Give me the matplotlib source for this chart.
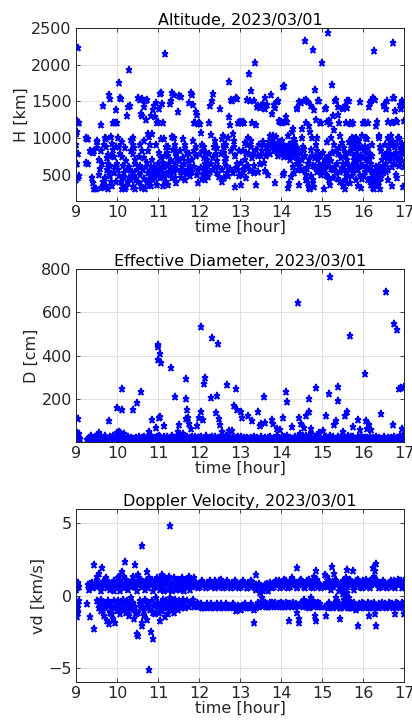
import matplotlib
matplotlib.use("Agg")
import matplotlib.pyplot as plt
import numpy as np

# ---- data (time [hour], value) ----
date = "2023/03/01"
hour_ticks = [9, 10, 11, 12, 13, 14, 15, 16, 17]

alt_pts = [
    (9.0,1220),(9.02,1230),(9.05,1210),(9.08,1200),(9.0,1050),(9.03,1080),(9.0,800),(9.05,780),(9.0,650),(9.02,640),
    (9.0,420),(9.05,460),(9.08,480),(9.01,900),(9.06,2230),
    (9.25,1000),(9.28,990),(9.3,980),(9.35,820),(9.38,810),(9.42,800),(9.25,660),(9.3,650),(9.4,450),(9.42,380),
    (9.45,300),(9.48,310),(9.5,950),(9.52,960),(9.45,820),
    (9.6,1180),(9.65,1430),(9.7,1000),(9.72,880),(9.75,720),(9.78,650),(9.8,540),(9.82,480),(9.85,400),(9.88,350),
    (9.6,320),(9.65,330),(9.7,450),(9.75,560),(9.78,770),(9.8,1590),(9.82,1530),(9.85,1010),(9.9,830),(9.92,740),
    (9.95,600),(9.98,400),(9.62,820),(9.68,900),(9.72,350),(9.55,700),(9.58,580),(9.9,1200),(9.95,1200),(9.98,1380),(9.88,920),
    (10.0,1200),(10.02,1000),(10.05,1750),(10.05,880),(10.08,1550),(10.1,1530),(10.12,740),(10.15,620),(10.18,520),(10.2,310),
    (10.22,330),(10.25,1300),(10.28,1420),(10.3,1930),(10.32,1440),(10.35,970),(10.38,900),(10.4,1000),(10.42,860),(10.45,700),
    (10.48,560),(10.3,450),(10.35,420),(10.4,330),(10.45,300),(10.0,650),(10.05,480),(10.1,400),(10.15,350),(10.25,560),
    (10.3,600),(10.38,780),(10.12,300),(10.2,860),(10.42,480),
    (10.52,1540),(10.55,1520),(10.58,1330),(10.6,1300),(10.62,1530),(10.65,1420),(10.68,1500),(10.7,1250),(10.72,1520),(10.75,1060),
    (10.78,1010),(10.8,900),(10.82,1300),(10.85,1050),(10.88,1380),(10.9,1430),(10.92,1290),(10.95,1480),(10.98,1210),(10.55,900),
    (10.6,820),(10.65,720),(10.7,600),(10.75,520),(10.8,480),(10.85,550),(10.9,600),(10.95,580),(10.52,400),(10.58,350),
    (10.62,320),(10.68,310),(10.72,380),(10.78,420),(10.82,340),(10.88,500),(10.92,450),(10.98,530),(10.55,620),(10.65,960),
    (10.75,820),(10.85,700),(10.95,900),
    (11.0,1220),(11.02,1400),(11.05,1600),(11.08,1620),(11.1,1460),(11.12,1210),(11.15,980),(11.18,2140),(11.2,880),(11.22,800),
    (11.25,760),(11.28,640),(11.3,1470),(11.32,1500),(11.35,1620),(11.38,1580),(11.4,1000),(11.42,900),(11.45,820),(11.48,700),
    (11.0,520),(11.05,580),(11.1,560),(11.15,470),(11.2,400),(11.25,360),(11.3,520),(11.35,460),(11.4,590),(11.45,380),
    (11.03,800),(11.08,730),(11.13,660),(11.23,620),(11.33,1010),(11.43,750),(11.48,1350),(11.12,340),(11.38,540),
    (11.5,1570),(11.55,1560),(11.6,990),(11.65,900),(11.7,800),(11.75,1480),(11.8,1610),(11.82,1590),(11.85,1450),(11.88,1210),
    (11.9,1200),(11.92,1350),(11.95,1320),(11.98,1190),(11.52,680),(11.58,600),(11.62,560),(11.68,510),(11.72,690),(11.78,620),
    (11.82,540),(11.88,820),(11.92,880),(11.95,500),(11.98,390),(11.55,460),(11.65,420),(11.75,780),(11.85,960),(11.6,720),
    (12.0,1200),(12.02,1190),(12.05,1070),(12.08,900),(12.1,820),(12.12,720),(12.15,640),(12.18,580),(12.2,520),(12.22,470),
    (12.25,1200),(12.28,1440),(12.3,1040),(12.32,1500),(12.35,1600),(12.38,960),(12.4,880),(12.42,780),(12.45,520),(12.48,470),
    (12.05,590),(12.1,500),(12.15,420),(12.2,700),(12.3,650),(12.4,600),(12.25,780),(12.35,560),(12.45,860),(12.12,880),
    (12.52,1400),(12.55,990),(12.58,1030),(12.6,900),(12.62,800),(12.65,620),(12.68,520),(12.7,480),(12.72,1280),(12.73,1770),
    (12.75,1180),(12.78,1520),(12.8,1510),(12.82,1060),(12.85,870),(12.88,330),(12.9,1540),(12.92,1530),(12.95,1200),(12.98,1210),
    (12.55,400),(12.6,460),(12.65,720),(12.75,580),(12.85,960),(12.9,590),(12.95,560),(12.98,820),(12.7,1000),(12.62,880),
    (13.0,1220),(13.02,1200),(13.05,1210),(13.08,1220),(13.1,1210),(13.12,930),(13.15,790),(13.18,1520),(13.2,1000),(13.22,1870),
    (13.25,1510),(13.27,1640),(13.3,1200),(13.32,780),(13.35,1500),(13.37,2020),(13.4,1170),(13.42,1420),(13.45,1440),(13.48,1410),
    (13.02,360),(13.05,500),(13.1,570),(13.15,460),(13.2,620),(13.25,550),(13.3,720),(13.35,520),(13.4,360),(13.45,540),
    (13.08,820),(13.18,900),(13.28,960),(13.38,830),(13.48,640),
    (13.5,1430),(13.55,1470),(13.6,1540),(13.62,1400),(13.65,1450),(13.7,940),(13.72,1030),(13.75,1580),(13.78,1330),(13.8,1020),
    (13.82,1450),(13.85,1410),(13.88,1010),(13.9,1490),(13.92,1500),(13.95,1230),(13.98,1220),(13.52,760),(13.58,660),(13.62,550),
    (13.68,500),(13.72,900),(13.78,860),(13.82,920),(13.85,380),(13.88,820),(13.92,840),(13.95,900),(13.98,850),(13.55,900),(13.65,820),
    (14.0,1220),(14.02,1210),(14.05,1700),(14.08,1710),(14.1,1220),(14.12,1280),(14.15,1220),(14.18,1020),(14.2,900),(14.22,880),
    (14.25,860),(14.28,1080),(14.3,1120),(14.32,990),(14.35,950),(14.38,1400),(14.4,1410),(14.42,830),(14.45,1490),(14.48,1480),
    (14.0,800),(14.03,850),(14.05,500),(14.08,520),(14.1,870),(14.12,880),(14.15,800),(14.18,320),(14.2,380),(14.22,780),
    (14.25,470),(14.28,760),(14.3,600),(14.32,520),(14.35,900),(14.38,720),(14.4,650),(14.42,560),(14.45,360),(14.48,800),
    (14.02,960),(14.06,780),(14.14,830),(14.24,920),(14.34,820),
    (14.5,1120),(14.52,1000),(14.55,1500),(14.58,2320),(14.6,1520),(14.62,1200),(14.65,1490),(14.68,1160),(14.7,1080),(14.72,1430),
    (14.75,1000),(14.78,2200),(14.8,1380),(14.83,1660),(14.85,1250),(14.88,1000),(14.9,1510),(14.92,1500),(14.95,1200),(14.98,1210),
    (14.52,700),(14.55,560),(14.6,500),(14.62,420),(14.65,380),(14.68,320),(14.7,300),(14.72,830),(14.75,760),(14.78,420),
    (14.8,330),(14.82,600),(14.85,900),(14.88,540),(14.9,700),(14.92,750),(14.95,560),(14.98,500),(14.57,850),(14.67,640),
    (15.0,2020),(15.05,300),(15.08,1400),(15.1,1410),(15.12,1220),(15.15,2430),(15.18,1230),(15.2,1190),(15.22,1000),(15.25,1720),
    (15.28,1300),(15.3,1110),(15.32,1500),(15.35,1520),(15.38,1420),(15.4,1310),(15.42,1200),(15.45,1020),(15.48,930),(15.05,580),
    (15.08,560),(15.1,500),(15.12,700),(15.15,620),(15.18,420),(15.2,360),(15.22,580),(15.25,800),(15.28,460),(15.3,900),
    (15.32,600),(15.35,520),(15.38,780),(15.4,440),(15.42,860),(15.45,400),(15.48,580),(15.02,800),(15.12,950),
    (15.5,1410),(15.52,1390),(15.55,1440),(15.58,1200),(15.6,1410),(15.62,1500),(15.65,1510),(15.68,1200),(15.7,1190),(15.72,1000),
    (15.75,1200),(15.8,920),(15.82,1000),(15.85,820),(15.9,960),(15.92,1490),(15.95,760),(15.98,1030),(15.5,640),(15.52,340),
    (15.55,300),(15.58,520),(15.6,380),(15.62,700),(15.65,600),(15.68,560),(15.7,900),(15.72,480),(15.75,880),(15.78,980),
    (15.8,620),(15.82,420),(15.85,560),(15.88,350),(15.9,700),(15.92,480),(15.95,320),(15.98,440),(15.57,800),(15.67,950),(15.77,700),
    (16.0,1200),(16.02,1210),(16.05,1200),(16.08,1000),(16.1,980),(16.12,1200),(16.15,1420),(16.18,1480),(16.2,1500),(16.22,900),
    (16.25,1540),(16.28,2180),(16.3,1520),(16.32,1160),(16.35,1220),(16.38,1000),(16.4,1020),(16.42,880),(16.45,820),(16.48,600),
    (16.0,720),(16.02,500),(16.05,880),(16.08,800),(16.1,600),(16.12,420),(16.15,700),(16.18,580),(16.2,360),(16.22,530),
    (16.25,320),(16.28,300),(16.3,500),(16.32,420),(16.35,550),(16.38,400),(16.4,560),(16.42,310),(16.45,460),(16.48,520),
    (16.5,1430),(16.52,1450),(16.55,1400),(16.58,1500),(16.6,1220),(16.62,1000),(16.65,960),(16.68,1020),(16.7,1200),(16.72,1550),
    (16.73,2290),(16.75,1540),(16.78,1370),(16.8,1230),(16.82,1220),(16.85,1000),(16.88,980),(16.9,1450),(16.92,1400),(16.95,1500),
    (16.98,1430),(17.0,1230),(16.52,600),(16.55,530),(16.58,800),(16.6,560),(16.62,420),(16.65,680),(16.68,900),(16.7,340),
    (16.72,760),(16.75,640),(16.78,880),(16.8,490),(16.82,460),(16.85,700),(16.88,1000),(16.9,800),(16.92,840),(16.95,680),
    (16.98,330),(17.0,860),
]

# altitude: extra detections filling the dense 300-1000 km band
alt_band = [
    (9.52,860),(9.57,500),(9.63,640),(9.67,400),(9.73,980),(9.77,300),(9.83,620),(9.87,760),(9.93,520),(9.97,880),
    (10.03,560),(10.07,780),(10.13,940),(10.17,460),(10.23,680),(10.27,380),(10.33,820),(10.37,540),(10.43,640),(10.47,420),
    (10.53,740),(10.57,500),(10.63,560),(10.67,440),(10.73,660),(10.77,360),(10.83,600),(10.87,420),(10.93,520),(10.97,360),
    (11.01,640),(11.04,460),(11.07,980),(11.11,520),(11.14,600),(11.17,760),(11.21,500),(11.24,880),(11.27,540),(11.31,680),
    (11.34,580),(11.37,840),(11.41,460),(11.44,660),(11.47,560),(11.53,820),(11.57,540),(11.63,640),(11.67,860),(11.73,560),
    (11.77,480),(11.83,700),(11.87,600),(11.93,760),(11.97,560),(12.03,780),(12.07,440),(12.13,560),(12.17,800),(12.23,640),
    (12.27,540),(12.33,720),(12.37,880),(12.43,680),(12.47,600),(12.53,780),(12.57,560),(12.63,680),(12.67,900),(12.77,820),
    (12.83,520),(12.87,760),(12.93,640),(12.97,480),(13.03,660),(13.07,560),(13.13,700),(13.17,620),(13.23,780),(13.27,880),
    (13.33,620),(13.43,760),(13.47,900),(13.53,820),(13.57,940),(13.63,760),(13.67,880),(13.73,780),(13.77,960),(13.83,840),
    (13.87,900),(13.93,760),(13.97,940),(14.04,900),(14.07,740),(14.11,820),(14.16,760),(14.19,860),(14.21,700),(14.26,820),
    (14.29,880),(14.31,740),(14.36,780),(14.39,860),(14.41,760),(14.44,700),(14.46,620),(14.49,560),(14.53,880),(14.59,760),
    (14.63,580),(14.69,700),(14.73,480),(14.77,620),(14.79,380),(14.84,720),(14.89,820),(14.93,620),(14.97,760),(15.03,640),
    (15.07,700),(15.13,480),(15.17,760),(15.23,680),(15.27,560),(15.33,820),(15.37,640),(15.43,540),(15.47,720),(15.53,860),
    (15.54,560),(15.56,420),(15.59,760),(15.61,640),(15.63,480),(15.66,800),(15.69,380),(15.71,820),(15.73,620),(15.76,540),
    (15.79,760),(15.81,860),(15.83,640),(15.86,740),(15.89,560),(15.91,880),(15.94,620),(15.97,860),(16.01,620),(16.03,840),
    (16.06,540),(16.09,700),(16.11,860),(16.13,560),(16.16,780),(16.19,640),(16.21,460),(16.23,760),(16.26,420),(16.29,400),
    (16.31,600),(16.33,340),(16.36,460),(16.39,620),(16.44,540),(16.47,700),(16.51,760),(16.54,900),(16.57,640),(16.61,740),
    (16.64,860),(16.67,780),(16.71,600),(16.74,940),(16.77,720),(16.81,800),(16.84,900),(16.87,620),(16.91,700),(16.94,920),
    (16.97,780),(16.99,600),
]

# effective diameter: scattered larger objects
dia_pts = [
    (9.05,105),(9.8,95),(10.0,155),(10.12,150),(10.13,245),(10.38,148),(10.48,180),(10.58,230),(10.78,45),(10.85,100),
    (10.95,65),(11.0,380),(11.0,440),(11.0,450),(11.05,405),(11.08,365),(11.02,110),(11.05,115),(11.15,75),(11.32,340),
    (11.42,210),(11.5,80),(11.68,290),(11.68,200),(11.7,150),(11.68,105),(11.72,110),(11.75,85),(11.8,60),(11.62,35),
    (11.48,45),(11.95,75),(12.0,110),(12.05,140),(12.1,100),(12.12,270),(12.15,295),(12.05,533),(12.32,480),(12.3,205),
    (12.45,215),(12.42,135),(12.48,105),(12.47,455),(12.5,80),(12.55,45),(12.68,265),(12.72,50),(12.8,50),(12.85,165),
    (12.9,245),(12.93,150),(13.02,140),(13.05,110),(13.2,120),(13.3,95),(13.43,140),(13.48,75),(13.52,85),(13.58,210),
    (13.6,90),(13.78,100),(13.8,85),(13.9,60),(13.98,55),(14.05,110),(14.12,233),(14.15,185),(14.28,70),(14.42,645),
    (14.45,110),(14.48,85),(14.55,65),(14.62,120),(14.68,200),(14.68,140),(14.72,60),(14.85,250),(14.92,40),(15.02,50),
    (15.1,120),(15.18,220),(15.2,762),(15.3,80),(15.35,95),(15.38,255),(15.4,190),(15.52,45),(15.55,120),(15.6,140),
    (15.68,490),(15.75,70),(15.88,100),(15.92,55),(16.05,315),(16.08,95),(16.1,60),(16.15,80),(16.2,55),(16.45,130),
    (16.55,692),(16.72,80),(16.75,545),(16.82,520),(16.88,245),(16.92,250),(16.95,60),(17.0,255),(16.9,30),
]

# effective diameter: the dense band of small objects near zero
dia_small = [
    (9.0,30),(9.01,10),(9.02,40),(9.03,5),(9.04,20),(9.05,35),(9.06,12),(9.07,38),(9.08,8),(9.1,15),
    (9.28,8),(9.32,20),(9.36,30),(9.4,12),(9.44,5),(9.48,18),(9.52,25),(9.55,40),(9.58,10),(9.62,22),
    (9.66,8),(9.7,30),(9.74,15),(9.78,5),(9.82,20),(9.86,12),(9.9,28),(9.94,8),(9.97,18),(10.0,40),
    (10.02,35),(10.04,45),(10.06,30),(10.08,42),(10.1,25),(10.14,10),(10.18,35),(10.22,6),(10.26,15),(10.3,8),
    (10.34,20),(10.38,12),(10.42,5),(10.46,18),(10.5,10),(10.54,22),(10.58,6),(10.62,15),(10.66,25),(10.7,8),
    (10.74,18),(10.78,12),(10.82,28),(10.86,20),(10.9,8),(10.94,15),(10.98,25),(11.0,12),(11.02,30),(11.06,18),
    (11.1,8),(11.14,22),(11.18,10),(11.22,25),(11.26,5),(11.3,18),(11.34,30),(11.38,10),(11.42,20),(11.46,8),
    (11.5,15),(11.54,28),(11.58,6),(11.62,18),(11.66,10),(11.7,25),(11.74,12),(11.78,20),(11.82,5),(11.86,15),
    (11.9,22),(11.94,8),(11.98,18),(12.02,12),(12.06,25),(12.1,8),(12.14,15),(12.18,30),(12.22,10),(12.26,20),
    (12.3,6),(12.34,15),(12.38,25),(12.42,8),(12.46,18),(12.5,12),(12.54,22),(12.58,6),(12.62,15),(12.66,28),
    (12.7,10),(12.74,18),(12.78,8),(12.82,22),(12.86,12),(12.9,20),(12.94,6),(12.98,15),(13.02,25),(13.06,10),
    (13.1,18),(13.14,8),(13.18,20),(13.22,12),(13.26,5),(13.3,15),(13.34,22),(13.38,8),(13.42,18),(13.46,10),
    (13.5,25),(13.54,12),(13.58,6),(13.62,20),(13.66,10),(13.7,15),(13.74,25),(13.78,8),(13.82,18),(13.86,12),
    (13.9,28),(13.94,8),(13.98,15),(14.02,22),(14.06,10),(14.1,18),(14.14,30),(14.18,12),(14.22,20),(14.26,8),
    (14.3,15),(14.34,25),(14.38,10),(14.42,20),(14.46,35),(14.5,12),(14.54,28),(14.58,15),(14.62,30),(14.66,10),
    (14.7,22),(14.74,35),(14.78,12),(14.82,25),(14.86,8),(14.9,18),(14.94,12),(14.98,5),(15.08,10),(15.1,25),
    (15.12,8),(15.16,18),(15.2,30),(15.24,12),(15.28,22),(15.32,6),(15.36,15),(15.4,25),(15.44,10),(15.48,18),
    (15.52,8),(15.56,20),(15.6,12),(15.64,28),(15.68,10),(15.72,18),(15.76,25),(15.8,8),(15.84,15),(15.88,22),
    (15.92,10),(15.96,30),(16.0,12),(16.04,20),(16.08,8),(16.12,15),(16.16,25),(16.2,10),(16.24,18),(16.28,6),
    (16.32,22),(16.36,12),(16.4,20),(16.44,8),(16.48,15),(16.52,25),(16.56,10),(16.6,18),(16.64,6),(16.68,20),
    (16.72,12),(16.76,25),(16.8,8),(16.84,18),(16.88,10),(16.92,22),(16.95,15),(16.98,30),(17.0,8),(16.97,20),
]

# effective diameter: more detections in the near-zero band
dia_small2 = [
    (9.0,15),(9.02,25),(9.04,8),(9.06,30),(9.3,15),(9.38,6),(9.46,25),(9.54,8),(9.6,15),(9.68,20),
    (9.76,10),(9.84,25),(9.92,15),(10.01,20),(10.03,10),(10.05,25),(10.07,15),(10.09,38),(10.12,20),(10.2,15),
    (10.28,25),(10.36,8),(10.44,12),(10.52,6),(10.6,20),(10.68,12),(10.76,8),(10.84,12),(10.92,20),(10.96,8),
    (11.04,25),(11.08,12),(11.12,15),(11.2,6),(11.28,12),(11.36,20),(11.44,12),(11.52,8),(11.6,22),(11.68,15),
    (11.76,8),(11.84,25),(11.92,12),(12.0,20),(12.08,15),(12.16,8),(12.24,12),(12.32,22),(12.4,12),(12.48,8),
    (12.56,15),(12.64,8),(12.72,20),(12.8,12),(12.88,8),(12.96,22),(13.04,12),(13.12,15),(13.2,8),(13.28,20),
    (13.36,12),(13.44,6),(13.52,15),(13.6,8),(13.68,20),(13.76,12),(13.84,8),(13.92,15),(14.0,10),(14.08,25),
    (14.16,8),(14.24,15),(14.32,8),(14.4,12),(14.48,20),(14.56,8),(14.64,20),(14.72,12),(14.8,15),(14.88,25),
    (14.96,15),(15.06,18),(15.14,12),(15.22,8),(15.3,15),(15.38,8),(15.46,25),(15.54,12),(15.62,6),(15.7,25),
    (15.78,12),(15.86,8),(15.94,15),(16.02,8),(16.1,20),(16.18,12),(16.26,15),(16.34,8),(16.42,15),(16.5,10),
    (16.58,8),(16.66,12),(16.74,8),(16.82,12),(16.9,15),(16.99,12),
]

# Doppler velocity: upper band (near +0.7 km/s)
vel_upper = [
    (9.0,0.7),(9.01,0.6),(9.02,0.8),(9.03,0.5),(9.05,0.7),(9.07,0.6),(9.3,0.7),(9.33,0.8),(9.36,0.6),(9.4,0.9),
    (9.43,0.7),(9.46,0.8),(9.5,0.6),(9.53,0.9),(9.56,0.7),(9.6,0.8),(9.63,0.6),(9.66,0.9),(9.7,0.7),(9.73,0.8),
    (9.76,0.5),(9.8,0.9),(9.83,0.7),(9.86,0.8),(9.9,0.6),(9.93,1.0),(9.96,0.7),(10.0,0.8),(10.03,0.6),(10.06,1.0),
    (10.1,0.7),(10.13,0.9),(10.16,0.5),(10.2,0.8),(10.23,1.1),(10.26,0.7),(10.3,0.9),(10.33,0.6),(10.36,1.0),(10.4,0.8),
    (10.43,0.6),(10.46,0.9),(10.5,0.7),(10.53,1.2),(10.56,0.8),(10.6,0.6),(10.63,0.9),(10.66,0.7),(10.7,1.0),(10.73,0.8),
    (10.76,0.5),(10.8,0.9),(10.83,0.7),(10.86,1.1),(10.9,0.8),(10.93,0.6),(10.96,0.9),(11.0,0.7),(11.03,1.0),(11.06,0.8),
    (11.1,1.3),(11.13,0.6),(11.16,0.9),(11.2,0.7),(11.23,1.1),(11.26,0.8),(11.3,0.6),(11.33,0.9),(11.36,0.7),(11.4,1.0),
    (11.43,0.8),(11.46,0.6),(11.5,0.9),(11.53,0.7),(11.56,0.8),(11.6,1.0),(11.63,0.7),(11.66,0.9),(11.7,0.6),(11.73,0.8),
    (11.76,1.1),(11.8,0.7),(11.83,0.9),(11.86,0.8),(11.9,0.6),(11.93,0.9),(11.96,0.7),(12.0,0.8),(12.03,0.6),(12.06,0.9),
    (12.1,0.7),(12.13,0.8),(12.16,0.6),(12.2,0.9),(12.23,0.7),(12.26,0.8),(12.3,0.6),(12.33,0.9),(12.36,0.7),(12.4,1.0),
    (12.43,0.8),(12.46,0.6),(12.5,0.9),(12.53,1.1),(12.56,0.7),(12.6,0.8),(12.63,0.6),(12.66,0.9),(12.7,0.7),(12.73,0.8),
    (12.76,0.6),(12.8,0.9),(12.83,0.7),(12.86,0.8),(12.9,0.6),(12.93,0.9),(12.96,0.7),(13.0,0.8),(13.03,0.6),(13.06,0.9),
    (13.1,0.7),(13.13,0.8),(13.16,0.5),(13.2,0.9),(13.23,0.7),(13.26,0.8),(13.3,0.6),(13.33,0.8),(13.36,0.5),(13.4,0.7),
    (13.43,0.6),(13.46,0.8),(13.5,0.4),(13.53,0.6),(13.56,0.3),(13.6,0.7),(13.63,0.5),(13.66,0.8),(13.7,0.6),(13.73,0.9),
    (13.76,0.7),(13.8,0.8),(13.83,0.6),(13.86,0.9),(13.9,0.7),(13.93,0.8),(13.96,1.0),(14.0,0.7),(14.03,0.9),(14.06,0.6),
    (14.1,0.8),(14.13,1.0),(14.16,0.7),(14.2,0.9),(14.23,0.6),(14.26,0.8),(14.3,1.0),(14.33,0.7),(14.36,0.9),(14.4,0.6),
    (14.43,0.8),(14.46,1.0),(14.5,0.7),(14.53,0.9),(14.56,0.6),(14.6,0.8),(14.63,1.0),(14.66,0.7),(14.7,0.9),(14.73,0.6),
    (14.76,0.8),(14.8,1.0),(14.83,0.7),(14.86,0.9),(14.9,0.6),(14.93,0.8),(14.96,0.7),(15.08,1.4),(15.1,0.9),(15.12,0.6),
    (15.15,0.8),(15.18,1.0),(15.2,0.7),(15.23,0.9),(15.26,0.6),(15.3,0.8),(15.33,1.0),(15.36,0.7),(15.4,0.9),(15.43,0.6),
    (15.46,0.8),(15.5,1.0),(15.53,0.7),(15.56,0.9),(15.6,0.6),(15.63,0.8),(15.66,1.0),(15.7,0.7),(15.73,0.9),(15.76,0.6),
    (15.8,0.8),(15.83,1.0),(15.86,0.7),(15.9,0.9),(15.93,0.6),(15.96,0.8),(16.0,1.0),(16.03,0.7),(16.06,0.9),(16.1,0.6),
    (16.13,0.8),(16.16,1.0),(16.2,0.7),(16.23,0.9),(16.26,1.2),(16.3,0.8),(16.33,1.0),(16.36,0.7),(16.4,0.9),(16.43,0.6),
    (16.46,0.8),(16.5,0.7),(16.53,0.9),(16.56,0.6),(16.6,0.8),(16.63,0.7),(16.66,0.9),(16.7,0.6),(16.73,0.8),(16.76,1.0),
    (16.8,0.7),(16.83,0.9),(16.86,1.1),(16.9,0.8),(16.93,1.0),(16.96,0.7),(16.98,0.9),(17.0,0.6),
]

# Doppler velocity: extra spread within the upper band
vel_upper2 = [
    (9.0,0.4),(9.04,0.9),(9.32,0.4),(9.42,0.5),(9.52,1.1),(9.62,0.3),(9.72,1.2),(9.82,0.4),(9.92,0.3),(10.02,1.2),
    (10.08,0.3),(10.18,1.3),(10.28,0.4),(10.38,1.3),(10.48,0.3),(10.58,1.1),(10.68,0.4),(10.78,1.2),(10.88,0.3),(10.98,1.2),
    (11.04,0.4),(11.08,1.1),(11.14,0.3),(11.18,1.2),(11.24,0.4),(11.28,1.3),(11.34,0.3),(11.38,1.2),(11.44,0.4),(11.48,1.1),
    (11.54,0.4),(11.58,1.2),(11.64,0.3),(11.68,1.1),(11.78,0.4),(11.88,1.2),(11.98,0.5),(12.08,1.0),(12.18,0.5),(12.28,1.0),
    (12.38,0.5),(12.48,1.0),(12.58,0.5),(12.68,1.0),(12.78,0.5),(12.88,1.0),(12.98,0.5),(13.08,1.0),(13.18,0.5),(13.28,1.0),
    (13.38,0.4),(13.48,0.2),(13.58,0.5),(13.68,0.3),(13.78,0.5),(13.88,1.0),(13.98,0.5),(14.08,1.1),(14.18,0.5),(14.28,1.1),
    (14.38,0.5),(14.48,1.1),(14.58,0.5),(14.68,1.1),(14.78,0.5),(14.88,1.1),(14.98,0.5),(15.06,0.6),(15.14,1.1),(15.22,0.4),
    (15.32,1.1),(15.42,0.3),(15.52,0.4),(15.58,1.2),(15.62,0.2),(15.68,1.1),(15.78,0.4),(15.88,1.1),(15.98,0.5),(16.08,1.1),
    (16.18,0.5),(16.28,1.3),(16.38,0.5),(16.48,1.0),(16.58,0.5),(16.68,1.0),(16.78,0.5),(16.88,1.0),(16.95,0.5),(17.0,1.0),
]

# Doppler velocity: lower band and scatter
vel_lower = [
    (9.0,-0.5),(9.01,-1.0),(9.02,-1.5),(9.03,-0.8),(9.04,-1.2),(9.05,-0.6),(9.06,-0.9),(9.07,-0.4),(9.28,-0.6),(9.35,-1.5),
    (9.45,-2.3),(9.5,-0.4),(9.55,-0.9),(9.6,-0.3),(9.62,-1.1),(9.65,-0.6),(9.68,-1.4),(9.7,-0.5),(9.72,-0.9),(9.75,-1.8),
    (9.78,-0.7),(9.8,-2.0),(9.82,-1.2),(9.85,-0.5),(9.88,-0.9),(9.9,-1.6),(9.92,-0.4),(9.95,-1.9),(9.97,-0.8),(10.0,-1.1),
    (10.02,-0.4),(10.05,-0.7),(10.08,-1.3),(10.1,-0.5),(10.12,-0.9),(10.15,-0.3),(10.18,-1.0),(10.2,-0.6),(10.22,-1.2),(10.25,-0.4),
    (10.28,-0.8),(10.3,-1.4),(10.32,-0.6),(10.35,-0.2),(10.38,-1.0),(10.4,-0.5),(10.42,-1.6),(10.45,-0.8),(10.48,-2.7),(10.5,-2.8),
    (10.52,-1.2),(10.55,-0.4),(10.58,-0.9),(10.6,-2.1),(10.6,-1.9),(10.62,-0.6),(10.65,-1.1),(10.68,-0.3),(10.7,-0.8),(10.72,-1.7),
    (10.75,-0.5),(10.78,-5.2),(10.8,-1.0),(10.83,-2.5),(10.85,-0.4),(10.88,-3.0),(10.9,-0.7),(10.92,-1.3),(10.95,-0.2),(10.98,-0.9),
    (11.0,-0.5),(11.02,-1.2),(11.05,-1.8),(11.08,-0.6),(11.1,-1.0),(11.12,-0.3),(11.15,-0.8),(11.18,-1.5),(11.2,-0.4),(11.22,-0.9),
    (11.25,-1.3),(11.28,-0.6),(11.3,-0.2),(11.32,-1.0),(11.35,-0.5),(11.38,-0.8),(11.4,-1.2),(11.42,-0.3),(11.45,-0.7),(11.48,-1.0),
    (11.5,-0.4),(11.52,-0.6),(11.55,-0.9),(11.58,-0.5),(11.6,-0.3),(11.65,-0.7),(11.7,-0.4),(11.75,-0.8),(11.8,-0.6),(11.85,-0.3),
    (11.9,-0.7),(11.95,-0.5),(12.0,-0.7),(12.03,-0.8),(12.06,-0.6),(12.1,-0.7),(12.13,-0.9),(12.16,-0.7),(12.2,-0.6),(12.23,-0.8),
    (12.26,-0.7),(12.3,-0.6),(12.33,-0.8),(12.36,-0.7),(12.4,-0.9),(12.43,-0.6),(12.46,-0.7),(12.5,-0.8),(12.53,-0.6),(12.56,-0.7),
    (12.6,-0.9),(12.63,-0.7),(12.66,-0.6),(12.7,-0.8),(12.73,-0.7),(12.76,-0.9),(12.8,-0.7),(12.83,-0.6),(12.86,-0.8),(12.9,-1.1),
    (12.93,-0.9),(12.96,-0.7),(13.0,-0.8),(13.03,-1.0),(13.06,-0.7),(13.1,-0.9),(13.13,-0.6),(13.16,-0.8),(13.2,-0.7),(13.23,-0.9),
    (13.26,-0.6),(13.3,-0.8),(13.33,-1.0),(13.35,-1.9),(13.4,-0.7),(13.43,-0.5),(13.46,-0.8),(13.5,-0.6),(13.53,-0.2),(13.56,-0.7),
    (13.6,-0.5),(13.63,-0.8),(13.66,-0.6),(13.7,-0.7),(13.73,-0.5),(13.76,-0.8),(13.8,-0.6),(13.83,-0.7),(13.86,-0.5),(13.9,-0.8),
    (13.93,-0.6),(13.96,-0.7),(14.0,-0.5),(14.03,-0.8),(14.06,-0.6),(14.1,-0.7),(14.13,-0.5),(14.16,-0.8),(14.2,-1.8),(14.23,-0.6),
    (14.26,-0.7),(14.3,-0.5),(14.33,-0.8),(14.36,-0.6),(14.4,-1.2),(14.43,-1.6),(14.45,-1.9),(14.48,-0.7),(14.5,-0.5),(14.53,-0.8),
    (14.56,-0.3),(14.6,-0.6),(14.63,-0.8),(14.66,-0.5),(14.7,-0.7),(14.73,-0.2),(14.76,-0.6),(14.8,-0.8),(14.83,-1.4),(14.85,-1.8),
    (14.88,-0.7),(14.9,-0.5),(14.93,-0.8),(14.96,-0.6),(15.1,-1.4),(15.12,-0.7),(15.15,-0.9),(15.18,-0.6),(15.2,-0.8),(15.23,-0.7),
    (15.26,-0.9),(15.3,-0.6),(15.33,-0.2),(15.36,-0.8),(15.4,-0.5),(15.43,-0.9),(15.45,-1.6),(15.48,-0.7),(15.5,0.1),(15.53,-0.3),
    (15.56,-0.8),(15.58,-0.1),(15.6,-0.6),(15.63,-0.9),(15.66,-0.4),(15.7,-0.7),(15.73,-0.9),(15.76,-0.6),(15.8,-0.8),(15.83,-1.0),
    (15.86,-0.7),(15.88,-2.1),(15.9,-0.6),(15.93,-0.9),(15.96,-0.7),(16.0,-0.8),(16.03,-0.6),(16.06,-0.9),(16.1,-0.7),(16.13,-0.5),
    (16.15,-1.4),(16.18,-0.8),(16.2,-0.6),(16.23,-0.9),(16.26,-0.7),(16.3,-1.3),(16.32,-2.1),(16.35,-0.8),(16.38,-0.6),(16.4,-0.9),
    (16.43,-0.7),(16.46,-0.5),(16.5,-0.8),(16.53,-0.6),(16.56,-0.9),(16.6,-0.7),(16.63,-0.5),(16.66,-0.8),(16.7,-0.6),(16.73,-0.9),
    (16.76,-0.7),(16.78,-1.3),(16.8,-0.5),(16.83,-0.8),(16.86,-0.6),(16.9,-0.9),(16.93,-0.7),(16.96,-0.5),(16.98,-0.8),(17.0,-1.3),
]

# Doppler velocity: extra spread within the lower band
vel_lower2 = [
    (9.57,-0.6),(9.67,-1.0),(9.77,-0.4),(9.87,-1.3),(9.97,-0.5),(10.07,-1.0),(10.17,-0.6),(10.27,-1.1),(10.37,-0.7),(10.47,-1.3),
    (10.57,-0.6),(10.67,-1.4),(10.77,-0.8),(10.87,-1.2),(10.97,-0.6),(11.07,-1.1),(11.17,-0.5),(11.27,-1.0),(11.37,-0.4),(11.47,-0.8),
    (11.57,-0.6),(11.67,-0.9),(11.77,-0.5),(11.87,-0.8),(11.97,-0.6),(12.08,-0.9),(12.18,-0.8),(12.28,-0.9),(12.38,-0.8),(12.48,-0.9),
    (12.58,-0.8),(12.68,-0.7),(12.78,-0.8),(12.88,-0.7),(12.98,-0.9),(13.08,-0.7),(13.18,-0.9),(13.28,-0.7),(13.38,-0.9),(13.48,-0.7),
    (13.58,-0.6),(13.68,-0.8),(13.78,-0.5),(13.88,-0.7),(13.98,-0.6),(14.08,-0.8),(14.18,-0.6),(14.28,-0.8),(14.38,-0.7),(14.48,-0.5),
    (14.58,-0.7),(14.68,-0.9),(14.78,-0.4),(14.88,-0.6),(14.97,-0.8),(15.08,-0.8),(15.17,-0.5),(15.27,-0.7),(15.37,-0.4),(15.47,-0.9),
    (15.55,-0.4),(15.59,-0.6),(15.65,-0.2),(15.69,-0.9),(15.77,-0.5),(15.87,-0.8),(15.97,-0.5),(16.07,-0.7),(16.17,-0.9),(16.27,-0.5),
    (16.37,-0.8),(16.47,-0.6),(16.57,-0.7),(16.67,-0.6),(16.77,-0.8),(16.87,-0.7),(16.97,-0.6),
]

# Doppler velocity: isolated outliers
vel_outliers = [
    (9.45,2.1),(9.55,1.5),(9.63,1.9),(9.52,1.3),(9.7,1.1),(10.2,2.3),(10.12,1.6),(10.05,1.3),(10.45,2.1),(10.5,1.4),
    (10.62,3.4),(10.72,1.6),(11.3,4.8),(11.1,1.4),(11.75,1.3),(13.4,1.4),(14.38,1.9),(14.28,1.2),(14.85,1.7),(14.8,1.3),
    (15.25,2.0),(15.3,1.5),(15.6,1.8),(15.75,1.7),(16.25,1.9),(16.32,2.2),(16.3,1.7),(15.12,1.3),
]


def draw(ax, pts_list, title, ylabel, ylim, yticks):
    for pts in pts_list:
        t, v = np.array(pts).T
        ax.plot(t, v, '*', color=(0, 0, 1), markersize=5.2, markeredgewidth=1.2, linestyle='none')
    ax.set_xlim(9, 17)
    ax.set_ylim(*ylim)
    ax.set_xticks(hour_ticks)
    ax.set_yticks(yticks)
    ax.set_title(title, fontsize=11.5, pad=2, color='#000000')
    ax.set_xlabel('time [hour]', fontsize=11.5, labelpad=0, color='#262626')
    ax.set_ylabel(ylabel, fontsize=11.5, labelpad=2, color='#262626')
    ax.grid(True, color='#dcdcdc', linewidth=0.6)
    ax.set_axisbelow(True)
    ax.tick_params(direction='in', top=True, right=True, labelsize=11.5,
                   colors='#262626', length=3, width=0.6, pad=3)
    for s in ax.spines.values():
        s.set_color('#262626')
        s.set_linewidth(0.7)


fig = plt.figure(figsize=(4.12, 7.27), dpi=100)
W = 328 / 412
H = 173 / 727
ax1 = fig.add_axes([76 / 412, 1 - 201 / 727, W, H])
ax2 = fig.add_axes([76 / 412, 1 - 442 / 727, W, H])
ax3 = fig.add_axes([76 / 412, 1 - 682 / 727, W, H])

draw(ax1, [alt_pts, alt_band], f'Altitude, {date}', 'H [km]', (140, 2500), [500, 1000, 1500, 2000, 2500])
draw(ax2, [dia_small, dia_small2, dia_pts], f'Effective Diameter, {date}', 'D [cm]', (0, 800), [200, 400, 600, 800])
draw(ax3, [vel_upper, vel_upper2, vel_lower, vel_lower2, vel_outliers], f'Doppler Velocity, {date}', 'vd [km/s]', (-6, 6), [-5, 0, 5])

fig.savefig('out.png', dpi=100)
